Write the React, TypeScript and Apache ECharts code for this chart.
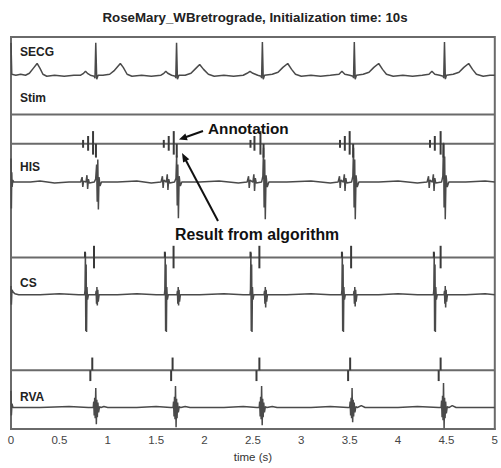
import React, { useEffect, useRef } from "react";
import * as echarts from "echarts";

const titleText = "RoseMary_WBretrograde, Initialization time: 10s";
const channelNames = ["SECG", "Stim", "HIS", "CS", "RVA"];

// signal traces: [time (s), offset value]
const secg: number[][] = [
  [0, 394], [0.008, 362], [0.05, 361], [0.1, 362], [0.15, 361], [0.19, 363], [0.23, 368], [0.27, 373], [0.3, 368], [0.33, 362], [0.37, 360],
  [0.45, 361], [0.55, 360], [0.65, 361], [0.72, 361], [0.75, 363], [0.77, 365], [0.79, 363], [0.82, 361], [0.86, 360], [0.868, 358],
  [0.876, 394], [0.886, 357], [0.9, 361], [0.95, 361], [1.02, 362], [1.07, 366], [1.13, 373], [1.16, 369], [1.2, 362], [1.25, 360],
  [1.35, 361], [1.45, 360], [1.55, 361], [1.58, 363], [1.6, 365], [1.62, 363], [1.66, 361], [1.698, 360], [1.703, 358], [1.711, 394],
  [1.72, 357], [1.735, 361], [1.8, 361], [1.86, 363], [1.91, 368], [1.95, 372], [1.99, 367], [2.04, 362], [2.1, 360], [2.2, 361],
  [2.3, 360], [2.4, 361], [2.44, 363], [2.47, 365], [2.5, 363], [2.55, 361], [2.585, 360], [2.59, 358], [2.598, 395], [2.607, 357],
  [2.62, 361], [2.7, 362], [2.76, 364], [2.81, 369], [2.86, 373], [2.9, 367], [2.94, 362], [3.0, 360], [3.1, 361], [3.2, 360],
  [3.3, 361], [3.39, 362], [3.42, 365], [3.45, 362], [3.5, 361], [3.535, 360], [3.54, 358], [3.548, 395], [3.557, 357], [3.57, 361],
  [3.64, 362], [3.7, 364], [3.75, 369], [3.8, 373], [3.84, 367], [3.88, 362], [3.95, 360], [4.05, 361], [4.15, 360], [4.25, 361],
  [4.32, 362], [4.35, 365], [4.38, 362], [4.43, 361], [4.467, 360], [4.472, 358], [4.48, 395], [4.489, 357], [4.5, 361], [4.57, 362],
  [4.63, 364], [4.68, 369], [4.73, 373], [4.77, 367], [4.81, 362], [4.88, 360], [4.95, 361], [5, 361],
];

const stim: number[][] = [[0, 321], [5, 321]];

const his: number[][] = [
  [0, 276], [0.004, 225], [0.008, 262], [0.012, 247], [0.018, 254], [0.03, 252], [0.2, 252], [0.3, 253], [0.45, 251], [0.6, 252],
  [0.72, 252], [0.735, 257], [0.742, 247], [0.75, 253], [0.775, 252], [0.785, 259], [0.792, 245], [0.8, 255], [0.81, 251], [0.86, 252],
  [0.875, 255], [0.885, 270], [0.891, 232], [0.897, 275], [0.903, 224], [0.91, 257], [0.92, 248], [0.935, 252],
  [1.1, 252], [1.3, 253], [1.45, 251],
  [1.55, 252], [1.565, 258], [1.572, 246], [1.58, 254], [1.605, 252], [1.615, 260], [1.622, 244], [1.63, 255], [1.64, 251], [1.69, 252],
  [1.705, 256], [1.712, 279], [1.718, 228], [1.724, 270], [1.73, 215], [1.738, 258], [1.75, 248], [1.765, 252],
  [1.95, 252], [2.15, 253], [2.35, 251],
  [2.44, 252], [2.455, 258], [2.462, 246], [2.47, 254], [2.5, 252], [2.51, 260], [2.517, 243], [2.525, 256], [2.535, 251], [2.59, 252],
  [2.603, 258], [2.61, 287], [2.616, 226], [2.622, 275], [2.628, 214], [2.636, 259], [2.648, 247], [2.665, 252],
  [2.85, 252], [3.1, 253], [3.3, 251],
  [3.38, 252], [3.395, 258], [3.402, 246], [3.41, 254], [3.435, 252], [3.445, 260], [3.452, 243], [3.46, 256], [3.47, 251], [3.52, 252],
  [3.533, 258], [3.54, 287], [3.546, 226], [3.552, 275], [3.558, 214], [3.566, 259], [3.578, 247], [3.595, 252],
  [3.8, 252], [4.0, 253], [4.2, 251],
  [4.3, 252], [4.315, 258], [4.322, 246], [4.33, 254], [4.355, 252], [4.365, 260], [4.372, 243], [4.38, 256], [4.39, 251], [4.45, 252],
  [4.463, 258], [4.47, 292], [4.476, 226], [4.482, 278], [4.488, 214], [4.496, 259], [4.508, 247], [4.525, 252],
  [4.7, 252], [4.9, 253], [5, 252],
];
const hisLine: number[][] = [[0, 291], [5, 291]];
// [time, from, to]
const hisMarks: number[][] = [
  [0.745, 287, 295], [0.797, 284, 299], [0.848, 280, 304], [0.878, 277, 291],
  [1.579, 287, 295], [1.63, 284, 299], [1.682, 280, 304], [1.713, 277, 291],
  [2.475, 287, 295], [2.516, 284, 299], [2.578, 280, 304], [2.61, 277, 291],
  [3.40, 287, 295], [3.45, 284, 299], [3.50, 280, 304], [3.536, 277, 291],
  [4.33, 287, 295], [4.38, 284, 299], [4.44, 280, 304], [4.47, 277, 291],
];

const cs: number[][] = [
  [0, 146], [0.004, 127], [0.01, 142], [0.02, 140], [0.04, 138], [0.08, 137], [0.3, 137], [0.5, 138], [0.7, 137],
  [0.76, 137], [0.765, 142], [0.769, 180], [0.773, 100], [0.777, 168], [0.781, 99], [0.785, 145], [0.791, 132], [0.8, 137],
  [0.875, 137], [0.88, 141], [0.884, 128], [0.888, 145], [0.892, 126], [0.897, 142], [0.902, 130], [0.91, 137],
  [1.1, 137], [1.3, 138], [1.5, 137],
  [1.585, 137], [1.59, 142], [1.594, 180], [1.598, 100], [1.602, 168], [1.606, 99], [1.61, 145], [1.616, 132], [1.625, 137],
  [1.715, 137], [1.72, 141], [1.724, 128], [1.728, 145], [1.732, 126], [1.737, 142], [1.742, 130], [1.75, 137],
  [1.95, 137], [2.2, 138], [2.4, 137],
  [2.47, 137], [2.475, 142], [2.479, 180], [2.483, 100], [2.487, 168], [2.491, 99], [2.495, 145], [2.501, 132], [2.51, 137],
  [2.615, 137], [2.62, 141], [2.624, 128], [2.628, 145], [2.632, 124], [2.637, 142], [2.642, 130], [2.65, 137],
  [2.85, 137], [3.1, 138], [3.3, 137],
  [3.415, 137], [3.42, 142], [3.424, 180], [3.428, 100], [3.432, 168], [3.436, 99], [3.44, 145], [3.446, 132], [3.455, 137],
  [3.54, 137], [3.545, 141], [3.549, 128], [3.553, 145], [3.557, 125], [3.562, 142], [3.567, 130], [3.575, 137],
  [3.8, 137], [4.0, 138], [4.2, 137],
  [4.365, 137], [4.37, 142], [4.374, 180], [4.378, 100], [4.382, 168], [4.386, 99], [4.39, 145], [4.396, 132], [4.405, 137],
  [4.475, 137], [4.48, 141], [4.484, 128], [4.488, 146], [4.492, 124], [4.497, 142], [4.502, 130], [4.51, 137],
  [4.7, 137], [4.9, 138], [5, 137],
];
const csLine: number[][] = [[0, 175], [5, 175]];
const csMarks: number[][] = [
  [0.765, 175, 181], [0.858, 164, 187],
  [1.59, 175, 181], [1.68, 164, 187],
  [2.475, 175, 181], [2.567, 164, 187],
  [3.42, 175, 181], [3.515, 164, 187],
  [4.37, 175, 181], [4.44, 164, 187],
];

const rva: number[][] = [
  [0, 39], [0.004, 14], [0.01, 26], [0.02, 22], [0.3, 22], [0.6, 23], [0.8, 22],
  [0.85, 22], [0.855, 28], [0.86, 14], [0.865, 32], [0.87, 11], [0.876, 42], [0.882, 5], [0.887, 30], [0.892, 12], [0.898, 27], [0.905, 17], [0.915, 23], [0.93, 22], [0.96, 23], [1.0, 22],
  [1.3, 22], [1.5, 23], [1.65, 22],
  [1.675, 22], [1.68, 28], [1.685, 13], [1.69, 33], [1.695, 10], [1.7, 44], [1.706, 2], [1.711, 31], [1.716, 11], [1.722, 27], [1.729, 17], [1.739, 23], [1.755, 22], [1.8, 23], [1.85, 22],
  [2.2, 22], [2.4, 23], [2.54, 22],
  [2.565, 22], [2.57, 28], [2.575, 13], [2.58, 33], [2.585, 10], [2.59, 44], [2.596, 4], [2.601, 31], [2.606, 12], [2.612, 27], [2.619, 17], [2.629, 23], [2.645, 22], [2.7, 23], [2.75, 22],
  [3.1, 22], [3.3, 23], [3.48, 22],
  [3.5, 22], [3.505, 28], [3.51, 14], [3.515, 32], [3.52, 11], [3.525, 42], [3.531, 7], [3.536, 30], [3.541, 13], [3.547, 27], [3.554, 17], [3.564, 23], [3.58, 22], [3.62, 24], [3.66, 22],
  [4.0, 22], [4.2, 23], [4.42, 22],
  [4.445, 22], [4.45, 29], [4.455, 12], [4.46, 34], [4.465, 9], [4.47, 47], [4.476, 1], [4.481, 32], [4.486, 11], [4.492, 28], [4.499, 16], [4.509, 23], [4.525, 22], [4.56, 24], [4.6, 22],
  [4.8, 22], [5, 22],
];
const rvaLine: number[][] = [[0, 60], [5, 60]];
const rvaMarks: number[][] = [
  [0.82, 49, 60], [0.84, 60, 73],
  [1.655, 49, 60], [1.67, 60, 73],
  [2.537, 49, 60], [2.567, 60, 73],
  [3.484, 49, 60], [3.505, 60, 73],
  [4.42, 49, 60], [4.44, 60, 73],
];

const FONT = "'Liberation Sans', Arial, Helvetica, sans-serif";
const TRACE = "#4a4a4a";
const FRAME = "#6a6a6a";

function arrow(x1: number, y1: number, x2: number, y2: number, len: number, half: number): any[] {
  const dx = x2 - x1;
  const dy = y2 - y1;
  const d = Math.sqrt(dx * dx + dy * dy);
  const ux = dx / d;
  const uy = dy / d;
  const bx = x2 - ux * len;
  const by = y2 - uy * len;
  const px = -uy * half;
  const py = ux * half;
  return [
    { type: "line", shape: { x1, y1, x2: bx + ux * 2, y2: by + uy * 2 }, style: { stroke: "#111", lineWidth: 2 }, z: 100 },
    {
      type: "polygon",
      shape: { points: [[x2, y2], [bx + px, by + py], [bx - px, by - py]] },
      style: { fill: "#111" },
      z: 100,
    },
  ];
}

function traceSeries(data: number[][], width: number, color: string) {
  return {
    type: "line",
    data,
    symbol: "none",
    lineStyle: { color, width },
    silent: true,
    z: 3,
  };
}

function markSeries(data: number[][], width: number) {
  return {
    type: "custom",
    data,
    encode: { x: 0, y: [1, 2] },
    silent: true,
    z: 4,
    renderItem: (params: any, api: any) => {
      const t = api.value(0);
      const p0 = api.coord([t, api.value(1)]);
      const p1 = api.coord([t, api.value(2)]);
      return {
        type: "line",
        shape: { x1: p0[0], y1: p0[1], x2: p1[0], y2: p1[1] },
        style: { stroke: "#3a3a3a", lineWidth: width },
      };
    },
  };
}

export default function App() {
  const ref = useRef<HTMLDivElement>(null);
  useEffect(() => {
    document.body.style.margin = "0";
    if (!ref.current) return;
    const chart = echarts.init(ref.current, null, { renderer: "svg" });
    const labelPos = [
      [20, 52],
      [20, 98],
      [20, 167],
      [20, 283],
      [20, 397],
    ];
    const labels = channelNames.map((name, i) => ({
      type: "text",
      x: labelPos[i][0],
      y: labelPos[i][1],
      style: { text: name, font: `bold 12px ${FONT}`, fill: "#222", textVerticalAlign: "middle" },
      z: 50,
    }));
    chart.setOption({
      animation: false,
      backgroundColor: "#fff",
      title: {
        text: titleText,
        left: 250,
        top: 6,
        textAlign: "center",
        textStyle: { fontFamily: FONT, fontSize: 13.3, fontWeight: "bold", color: "#222" },
      },
      grid: {
        left: 11,
        right: 4,
        top: 37,
        bottom: 31,
        show: true,
        borderColor: FRAME,
        borderWidth: 2,
        backgroundColor: "transparent",
      },
      xAxis: {
        type: "value",
        min: 0,
        max: 5,
        interval: 0.5,
        name: "time (s)",
        nameLocation: "middle",
        nameGap: 21,
        nameTextStyle: { fontFamily: FONT, fontSize: 11.5, color: "#333" },
        axisLine: { show: true, lineStyle: { color: FRAME, width: 2 } },
        axisTick: { show: false },
        splitLine: { show: false },
        axisLabel: {
          margin: 5,
          fontFamily: FONT,
          fontSize: 11.5,
          color: "#444",
          showMaxLabel: true,
          showMinLabel: true,
        },
      },
      yAxis: {
        type: "value",
        min: 0,
        max: 400,
        show: false,
        splitLine: { show: false },
      },
      series: [
        traceSeries(secg, 1.5, TRACE),
        traceSeries(stim, 2, FRAME),
        traceSeries(hisLine, 2, FRAME),
        traceSeries(his, 1.5, TRACE),
        traceSeries(csLine, 2, FRAME),
        traceSeries(cs, 1.5, TRACE),
        traceSeries(rvaLine, 2, FRAME),
        traceSeries(rva, 1.5, TRACE),
        markSeries(hisMarks, 2),
        markSeries(csMarks, 2),
        markSeries(rvaMarks, 2),
      ],
      graphic: [
        ...labels,
        {
          type: "text",
          x: 208,
          y: 128,
          style: { text: "Annotation", font: `bold 15.3px ${FONT}`, fill: "#111", textVerticalAlign: "middle" },
          z: 100,
        },
        {
          type: "text",
          x: 175,
          y: 234,
          style: { text: "Result from algorithm", font: `bold 15.8px ${FONT}`, fill: "#111", textVerticalAlign: "middle" },
          z: 100,
        },
        ...arrow(203, 131, 179, 139.5, 8, 3.5),
        ...arrow(218, 221, 182, 153, 9, 3.5),
      ],
    });
    return () => chart.dispose();
  }, []);
  return <div ref={ref} style={{ width: 501, height: 468 }} />;
}
